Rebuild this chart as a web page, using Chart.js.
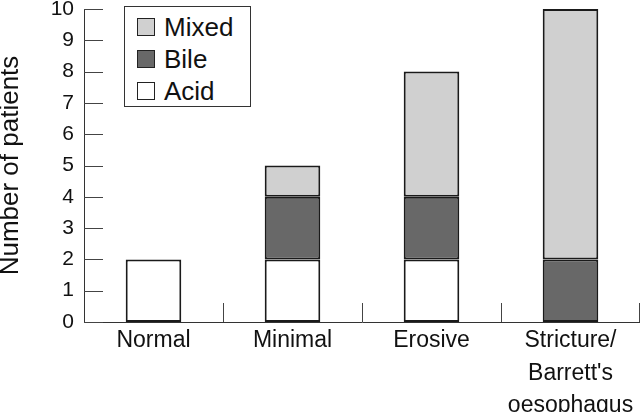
<!DOCTYPE html>
<html>
<head>
<meta charset="utf-8">
<script src="https://cdn.jsdelivr.net/npm/chart.js@4/dist/chart.umd.min.js"></script>
<style>
    body { margin: 0; background: #fff; }
    #wrap { position: relative; width: 640px; height: 412px; }
    #legend {
        position: absolute; left: 124px; top: 6px; width: 125px; height: 99px;
        border: 1.5px solid #333; background: #fff;
        font-family: "Liberation Sans", Arial, sans-serif; font-size: 26px; color: #111;
    }
    #legend .row { position: absolute; left: 12px; height: 20px; display: flex; align-items: center; }
    #legend .sw { width: 16px; height: 16px; border: 1.5px solid #222; margin-right: 9px; }
</style>
</head>
<body>
<div id="wrap">
    <canvas id="chart" width="640" height="412"></canvas>
    <div id="legend"></div>
</div>
<script>
const categories = ['Normal', 'Minimal', 'Erosive', ["Stricture/", "Barrett's", "oesophagus"]];
const acid = [2, 2, 2, 0];
const bile = [0, 2, 2, 2];
const mixed = [0, 1, 4, 8];
const yTicks = [0, 1, 2, 3, 4, 5, 6, 7, 8, 9, 10];

Chart.defaults.font.family = '"Liberation Sans", Arial, sans-serif';
Chart.defaults.color = '#111';

// inward y ticks and short category separators on the baseline
const axisMarks = {
    id: 'axisMarks',
    afterDraw(chart) {
        const ctx = chart.ctx;
        const x = chart.scales.x, y = chart.scales.y;
        const area = chart.chartArea;
        ctx.save();
        ctx.strokeStyle = '#444';
        ctx.lineWidth = 1;
        ctx.beginPath();
        yTicks.forEach(v => {
            const py = Math.round(y.getPixelForValue(v)) + 0.5;
            ctx.moveTo(area.left, py);
            ctx.lineTo(area.left + 19, py);
        });
        for (let i = 1; i <= categories.length; i++) {
            let px = i < categories.length
                ? (x.getPixelForTick(i - 1) + x.getPixelForTick(i)) / 2
                : area.right - 1;
            px = Math.round(px) + 0.5;
            ctx.moveTo(px, area.bottom);
            ctx.lineTo(px, area.bottom - 19);
        }
        ctx.stroke();
        ctx.restore();
    }
};

const datasets = [
    { label: 'Acid', data: acid, backgroundColor: '#ffffff' },
    { label: 'Bile', data: bile, backgroundColor: '#686868' },
    { label: 'Mixed', data: mixed, backgroundColor: '#d0d0d0' }
].map(d => Object.assign(d, {
    borderColor: '#1a1a1a',
    borderWidth: 2,
    borderSkipped: false,
    categoryPercentage: 1,
    barPercentage: 0.4
}));

new Chart(document.getElementById('chart'), {
    type: 'bar',
    data: { labels: categories, datasets: datasets },
    options: {
        responsive: false,
        animation: false,
        layout: { padding: 0 },
        plugins: { legend: { display: false }, tooltip: { enabled: false } },
        scales: {
            x: {
                stacked: true,
                grid: { display: false, drawTicks: false },
                border: { display: true, color: '#333', width: 1 },
                ticks: {
                    font: { size: 23, lineHeight: 1.4 },
                    padding: 3,
                    maxRotation: 0,
                    autoSkip: false
                },
                afterFit(scale) { scale.height = 90; }
            },
            y: {
                stacked: true,
                min: 0,
                max: 10,
                grid: { display: false, drawTicks: false },
                border: { display: true, color: '#333', width: 1 },
                ticks: {
                    stepSize: 1,
                    font: { size: 21, lineHeight: 1 },
                    padding: 10
                },
                title: {
                    display: true,
                    text: 'Number of patients',
                    font: { size: 26, lineHeight: 0.8 },
                    padding: 0
                },
                afterFit(scale) {
                    scale.width = 84;
                    scale.paddingTop = 9;
                }
            }
        }
    },
    plugins: [axisMarks]
});

// legend, top row is the top of the stack
const legend = document.getElementById('legend');
datasets.slice().reverse().forEach((d, i) => {
    const row = document.createElement('div');
    row.className = 'row';
    row.style.top = (10 + i * 32) + 'px';
    row.innerHTML = `<span class="sw" style="background:${d.backgroundColor}"></span><span>${d.label}</span>`;
    legend.appendChild(row);
});
</script>
</body>
</html>
